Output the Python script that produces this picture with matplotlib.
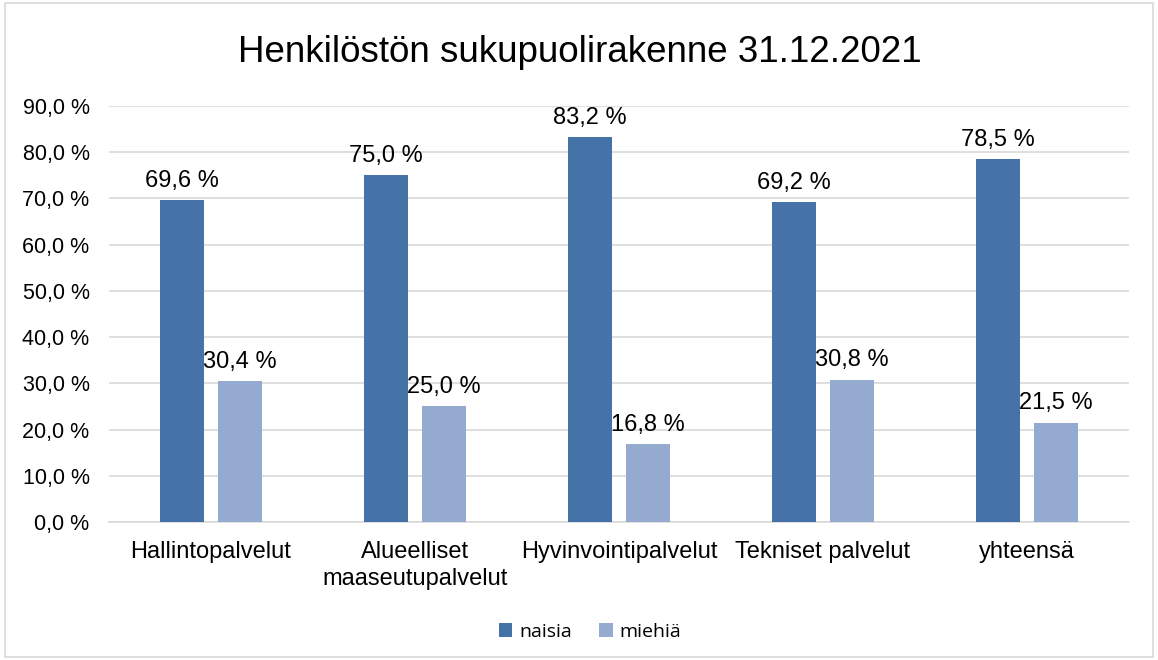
import matplotlib
matplotlib.use("Agg")
import matplotlib.pyplot as plt
import numpy as np
from matplotlib.patches import Rectangle

categories = ["Hallintopalvelut", "Alueelliset\nmaaseutupalvelut", "Hyvinvointipalvelut",
              "Tekniset palvelut", "yhteensä"]
naisia = [69.6, 75.0, 83.2, 69.2, 78.5]
miehia = [30.4, 25.0, 16.8, 30.8, 21.5]
series_names = ["naisia", "miehiä"]
yticks = [0, 10, 20, 30, 40, 50, 60, 70, 80, 90]
title = "Henkilöstön sukupuolirakenne 31.12.2021"

c_dark = "#4573A8"
c_light = "#95AACF"
font = "Liberation Sans"

fig = plt.figure(figsize=(11.58, 6.6), dpi=100)
fig.patches.append(Rectangle((0.004, 0.004), 0.992, 0.992, transform=fig.transFigure,
                             fill=False, edgecolor="#D9D9D9", linewidth=1.2))
ax = fig.add_axes([109/1158, 1-522/660, (1129-109)/1158, (522-106)/660])

x = np.arange(len(categories))
w = 0.22
off = 0.142
b1 = ax.bar(x - off, naisia, w, color=c_dark, label=series_names[0], zorder=3)
b2 = ax.bar(x + off, miehia, w, color=c_light, label=series_names[1], zorder=3)

def fmt(v):
    return f"{v:.1f}".replace(".", ",") + " %"

for bars, vals in ((b1, naisia), (b2, miehia)):
    for r, v in zip(bars, vals):
        ax.annotate(fmt(v), (r.get_x() + r.get_width()/2, v), xytext=(0, 6),
                    textcoords="offset points", ha="center", va="bottom",
                    fontsize=17, family=font, color="#000000")

ax.set_xlim(-0.5, len(categories) - 0.5)
ax.set_ylim(0, 90)
ax.set_yticks(yticks)
ax.set_yticklabels([fmt(v) for v in yticks], fontsize=15.5, family=font)
ax.set_xticks(x)
ax.set_xticklabels(categories, fontsize=17, family=font, linespacing=1.25)
ax.tick_params(axis="y", length=0, pad=14)
ax.tick_params(axis="x", length=0, pad=14)
ax.yaxis.grid(True, color="#D9D9D9", linewidth=1.2, zorder=0)
for s in ["top", "right", "left"]:
    ax.spines[s].set_visible(False)
ax.spines["bottom"].set_color("#D9D9D9")
ax.spines["bottom"].set_linewidth(1.2)

fig.text(580/1158, 1-52/660, title, ha="center", va="center", fontsize=26.5, family=font)

leg = fig.legend(handles=[b1, b2], labels=series_names, loc="center",
                 bbox_to_anchor=(590/1158, 1-632/660), ncol=2, frameon=False,
                 prop={"family": "Open Sans", "size": 14}, handlelength=0.7,
                 handleheight=0.7, handletextpad=0.35, columnspacing=1.4)

fig.savefig("out.png", dpi=100)
